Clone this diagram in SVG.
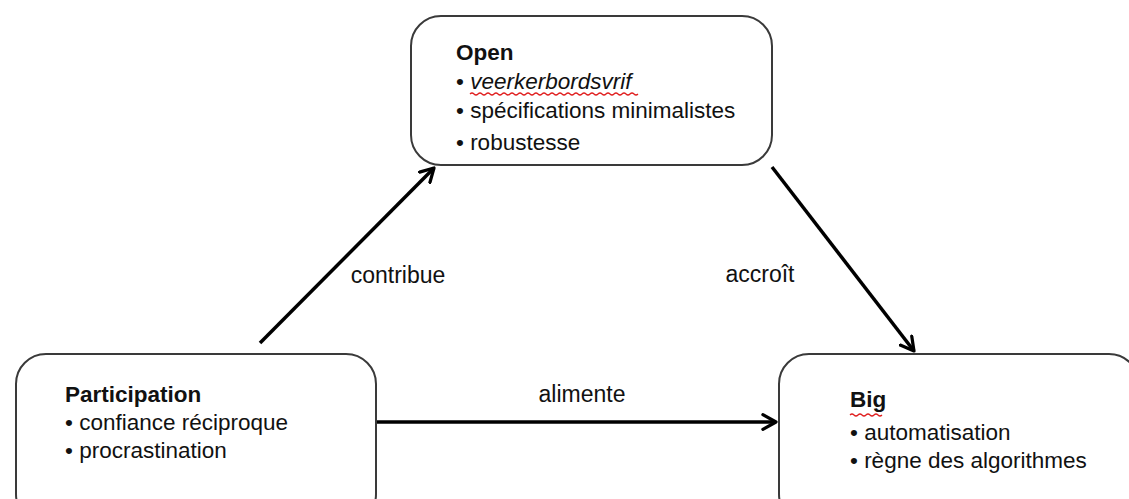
<svg xmlns="http://www.w3.org/2000/svg" width="1129" height="499" viewBox="0 0 1129 499">
<defs>
<style>
.box{fill:#fff;stroke:#3a3a3a;stroke-width:2}
.t{font-family:"Liberation Sans",Arial,sans-serif;font-size:22.5px;fill:#111}
.b{font-weight:bold}
.i{font-style:italic}
.lbl{font-family:"Liberation Sans",Arial,sans-serif;font-size:23px;fill:#111;text-anchor:middle}
.conn{stroke:#000;stroke-width:3.5;fill:none;marker-end:url(#arr)}
.sq{stroke:#e02020;stroke-width:1.2;fill:none}
</style>
<marker id="arr" viewBox="0 0 12 12" refX="10" refY="6" markerWidth="5" markerHeight="5" orient="auto" markerUnits="strokeWidth">
<path d="M1,1 L10,6 L1,11" fill="none" stroke="#000" stroke-width="2.2" stroke-linecap="round" stroke-linejoin="round"/>
</marker>
</defs>
<rect width="1129" height="499" fill="#fff"/>
<g id="connectors">
<path class="conn" d="M260,343 L434,168"/>
<path class="conn" d="M772,167 L914,351"/>
<path class="conn" d="M376,422 L776,422"/>
<text class="lbl" x="398" y="283">contribue</text>
<text class="lbl" x="760" y="282">accroît</text>
<text class="lbl" x="582" y="402">alimente</text>
</g>
<g id="node-open">
<rect class="box" x="411" y="16" width="361" height="149" rx="30"/>
<text class="t b" x="456" y="60">Open</text>
<text class="t" x="456" y="89">• <tspan class="i">veerkerbordsvrif</tspan></text>
<path class="sq" d="M470,94 q2,-2 4,0 t4,0 t4,0 t4,0 t4,0 t4,0 t4,0 t4,0 t4,0 t4,0 t4,0 t4,0 t4,0 t4,0 t4,0 t4,0 t4,0 t4,0 t4,0 t4,0 t4,0 t4,0 t4,0 t4,0 t4,0 t4,0 t4,0 t4,0 t4,0 t4,0 t4,0 t4,0 t4,0 t4,0 t4,0 t4,0 t4,0 t4,0 t4,0 t4,0 t4,0 t4,0"/>
<text class="t" x="456" y="118">• spécifications minimalistes</text>
<text class="t" x="456" y="150">• robustesse</text>
</g>
<g id="node-participation">
<rect class="box" x="16" y="354" width="360" height="170" rx="30"/>
<text class="t b" x="65" y="402">Participation</text>
<text class="t" x="65" y="430">• confiance réciproque</text>
<text class="t" x="65" y="458">• procrastination</text>
</g>
<g id="node-big">
<rect class="box" x="779" y="354" width="360" height="170" rx="30"/>
<text class="t b" x="850" y="407">Big</text>
<path class="sq" d="M850,415 q2,-2 4,0 t4,0 t4,0 t4,0 t4,0 t4,0 t4,0 t4,0"/>
<text class="t" x="850" y="440">• automatisation</text>
<text class="t" x="850" y="468">• règne des algorithmes</text>
</g>
</svg>
